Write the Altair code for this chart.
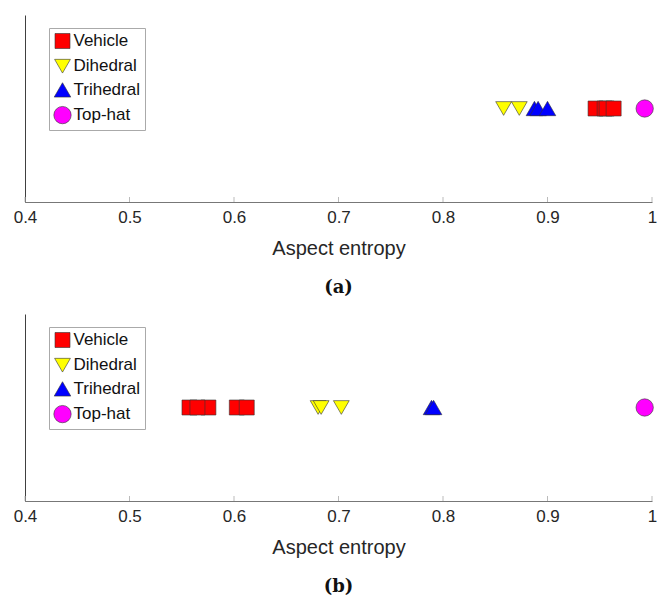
import altair as alt
import pandas as pd

categories = ["Vehicle", "Dihedral", "Trihedral", "Top-hat"]
colors = ["#ff0000", "#ffff00", "#0000ff", "#ff00ff"]
shapes = ["square", "triangle-down", "triangle-up", "circle"]
marker_sizes = [225, 300, 300, 270]

# panel (a)
vehicle_a = [0.946, 0.9547, 0.9566, 0.9633]
dihedral_a = [0.858, 0.873]
trihedral_a = [0.8875, 0.891, 0.900]
tophat_a = [0.993]

# panel (b)
vehicle_b = [0.5574, 0.5755, 0.565, 0.6027, 0.6122]
dihedral_b = [0.6805, 0.6834, 0.7027]
trihedral_b = [0.789, 0.791]
tophat_b = [0.993]

tick_values = [0.4, 0.5, 0.6, 0.7, 0.8, 0.9, 1.0]

W, H = 627, 187
FONT = "Liberation Sans"


def make_df(veh, dih, tri, top):
    rows = []
    for name, vals in zip(categories, [veh, dih, tri, top]):
        for v in vals:
            rows.append({"type": name, "entropy": v, "level": 1})
    return pd.DataFrame(rows)


ticks_df = pd.DataFrame({"t": tick_values})


def panel(df, caption):
    pts = alt.Chart(df).mark_point(
        filled=True, opacity=1, stroke="#333333", strokeWidth=0.6
    ).encode(
        x=alt.X("entropy:Q",
                scale=alt.Scale(domain=[0.4, 1.0], nice=False, zero=False),
                axis=alt.Axis(values=tick_values, format=".1~f", title="Aspect entropy",
                              ticks=False, tickSize=0, grid=False,
                              labelFont=FONT, labelFontSize=17, labelColor="#262626",
                              labelPadding=7, labelFlush=False,
                              titleFont=FONT, titleFontSize=20, titleFontWeight="normal",
                              titleColor="#262626", titlePadding=13,
                              domainColor="#777777", domainWidth=1)),
        y=alt.Y("level:Q", scale=alt.Scale(domain=[0, 2], nice=False),
                axis=alt.Axis(title=None, labels=False, ticks=False, grid=False,
                              minExtent=0, maxExtent=0, offset=0,
                              domainColor="#404040", domainWidth=1)),
        color=alt.Color("type:N", scale=alt.Scale(domain=categories, range=colors),
                        legend=alt.Legend(title=None, orient="none", legendX=24, legendY=13,
                                          symbolSize=290, symbolStrokeColor="#333333",
                                          symbolStrokeWidth=0.6, symbolOpacity=1,
                                          labelFont=FONT, labelFontSize=17,
                                          labelColor="#111111", labelOffset=2,
                                          rowPadding=6.2, padding=4.5,
                                          strokeColor="#aaaaaa", fillColor="white")),
        shape=alt.Shape("type:N", scale=alt.Scale(domain=categories, range=shapes)),
        size=alt.Size("type:N", scale=alt.Scale(domain=categories, range=marker_sizes),
                      legend=None),
    )
    tks = alt.Chart(ticks_df).mark_rule(color="#bbbbbb", strokeWidth=1).encode(
        x=alt.X("t:Q"),
        y=alt.value(H),
        y2=alt.value(H - 5),
    )
    return alt.layer(tks, pts).properties(
        width=W, height=H,
        title=alt.TitleParams(caption, orient="bottom", font="DejaVu Serif",
                              fontWeight="bold", fontSize=18, color="#111111",
                              offset=21, anchor="middle"),
    )


pa = panel(make_df(vehicle_a, dihedral_a, trihedral_a, tophat_a), "(a)")
pb = panel(make_df(vehicle_b, dihedral_b, trihedral_b, tophat_b), "(b)")

chart = alt.vconcat(pa, pb, spacing=17).resolve_legend(
    color="independent", shape="independent", size="independent"
).resolve_scale(color="independent", shape="independent", size="independent").properties(
    padding={"left": 13, "top": 15, "right": 0, "bottom": 0}
).configure_view(stroke=None)

chart.save("out.html", embed_options={"renderer": "svg", "actions": False})
